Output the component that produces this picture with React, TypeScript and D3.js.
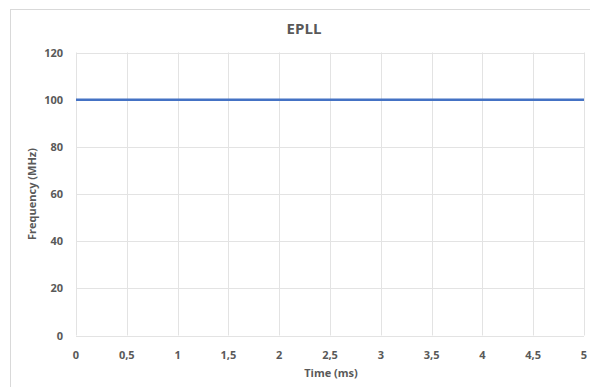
import React from "react";
import * as d3 from "d3";

const times = [0, 0.5, 1, 1.5, 2, 2.5, 3, 3.5, 4, 4.5, 5];
const frequency = [100, 100, 100, 100, 100, 100, 100, 100, 100, 100, 100];
const xTicks = [0, 0.5, 1, 1.5, 2, 2.5, 3, 3.5, 4, 4.5, 5];
const yTicks = [0, 20, 40, 60, 80, 100, 120];

const W = 590;
const H = 387;
const FONT = "'Open Sans', 'Liberation Sans', sans-serif";
const TEXT = "#595959";

export default function App() {
  const x = d3.scaleLinear().domain([0, 5]).range([76, 584]);
  const y = d3.scaleLinear().domain([0, 120]).range([335.5, 52.5]);
  const line = d3
    .line<number>()
    .x((_, i) => x(times[i]))
    .y((d) => y(d));
  const fmt = (v: number) => String(v).replace(".", ",");

  return (
    <svg
      width={W}
      height={H}
      style={{ position: "absolute", left: 0, top: 0, background: "#fff" }}
    >
      <rect x={10.5} y={9.5} width={600} height={400} fill="#fff" stroke="#d9d9d9" />
      <text
        x={304}
        y={34}
        textAnchor="middle"
        fontFamily={FONT}
        fontSize={15}
        fontWeight={700}
        fill={TEXT}
      >
        EPLL
      </text>
      {yTicks.map((t) => (
        <line
          key={"gy" + t}
          x1={x(0)}
          x2={x(5)}
          y1={Math.round(y(t)) + 0.5}
          y2={Math.round(y(t)) + 0.5}
          stroke="#e3e3e3"
          strokeWidth={1}
        />
      ))}
      {xTicks.map((t) => (
        <line
          key={"gx" + t}
          x1={Math.round(x(t)) + 0.5}
          x2={Math.round(x(t)) + 0.5}
          y1={y(120)}
          y2={y(0)}
          stroke="#e3e3e3"
          strokeWidth={1}
        />
      ))}
      <path d={line(frequency) || ""} fill="none" stroke="#4472C4" strokeWidth={2.5} />
      {yTicks.map((t) => (
        <text
          key={"ly" + t}
          x={63}
          y={y(t) + 4}
          textAnchor="end"
          fontFamily={FONT}
          fontSize={11}
          fontWeight={700}
          fill={TEXT}
        >
          {t}
        </text>
      ))}
      {xTicks.map((t) => (
        <text
          key={"lx" + t}
          x={x(t)}
          y={359}
          textAnchor="middle"
          fontFamily={FONT}
          fontSize={11}
          fontWeight={700}
          fill={TEXT}
        >
          {fmt(t)}
        </text>
      ))}
      <text
        x={331}
        y={377}
        textAnchor="middle"
        fontFamily={FONT}
        fontSize={11}
        fontWeight={700}
        fill={TEXT}
      >
        Time (ms)
      </text>
      <text
        transform={`translate(36, ${y(60)}) rotate(-90)`}
        textAnchor="middle"
        fontFamily={FONT}
        fontSize={11}
        fontWeight={700}
        fill={TEXT}
      >
        Frequency (MHz)
      </text>
    </svg>
  );
}
